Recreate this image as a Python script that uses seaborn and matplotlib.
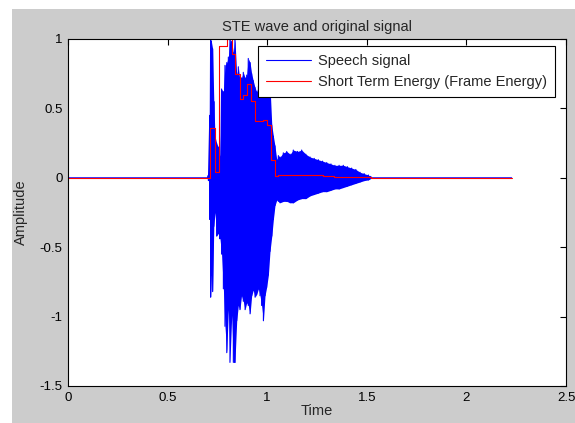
import numpy as np
import pandas as pd
import matplotlib
matplotlib.use("Agg")
import matplotlib.pyplot as plt
from matplotlib.patches import Rectangle
import seaborn as sns

# envelope of the speech signal (peaks)
env_t = [0.700, 0.705, 0.712, 0.716, 0.720, 0.726, 0.732, 0.738, 0.746, 0.755, 0.763,
         0.771, 0.780, 0.788, 0.797, 0.805, 0.813, 0.822, 0.830, 0.838, 0.847,
         0.855, 0.863, 0.871, 0.880, 0.889, 0.897, 0.905, 0.914, 0.922, 0.930,
         0.939, 0.947, 0.956, 0.964, 0.972, 0.981, 0.989, 0.997, 1.006, 1.014,
         1.023, 1.031, 1.039, 1.048, 1.056, 1.064, 1.081, 1.098, 1.115, 1.131,
         1.152, 1.173, 1.194, 1.215, 1.236, 1.257, 1.278, 1.299, 1.320, 1.340,
         1.361, 1.382, 1.403, 1.424, 1.445, 1.466, 1.487, 1.508, 1.520, 1.530]
env_hi = [0.0, 0.02, 0.45, 1.00, 0.98, 0.93, 0.55, 0.30, 0.25, 0.22, 0.15,
          0.64, 0.62, 0.81, 0.83, 0.87, 1.00, 0.98, 0.90, 1.00, 0.74,
          0.80, 0.70, 0.72, 0.76, 0.72, 0.74, 0.86, 0.83, 0.75, 0.70,
          0.65, 0.62, 0.66, 0.66, 0.68, 0.66, 0.62, 0.64, 0.60, 0.67,
          0.38, 0.30, 0.23, 0.13, 0.16, 0.15, 0.18, 0.19, 0.17, 0.20,
          0.19, 0.20, 0.17, 0.15, 0.14, 0.13, 0.12, 0.11, 0.10, 0.09,
          0.09, 0.09, 0.08, 0.07, 0.06, 0.04, 0.03, 0.02, 0.01, 0.0]
env_lo = [0.0, -0.02, -0.30, -0.86, -0.70, -0.82, -0.35, -0.25, -0.42, -0.40, -0.44,
          -0.55, -0.80, -1.07, -1.26, -0.95, -1.33, -0.99, -1.33, -1.33, -1.03,
          -0.92, -0.95, -0.85, -0.89, -0.95, -0.90, -0.92, -0.98, -0.85, -0.81,
          -0.86, -0.84, -0.80, -0.85, -0.92, -1.03, -0.85, -0.79, -0.70, -0.53,
          -0.42, -0.30, -0.20, -0.16, -0.17, -0.18, -0.17, -0.17, -0.18, -0.18,
          -0.16, -0.15, -0.15, -0.13, -0.12, -0.11, -0.10, -0.10, -0.09, -0.08,
          -0.08, -0.07, -0.06, -0.05, -0.04, -0.03, -0.02, -0.015, -0.005, 0.0]
sig_start = 0.0
sig_end = 2.227

# short term energy, one value per frame (step edges)
ste_t = [0.0, 0.713, 0.738, 0.760, 0.797, 0.822, 0.838, 0.863, 0.880, 0.900,
         0.917, 0.939, 0.977, 0.997, 1.019, 1.039, 1.053, 1.18, 1.19, 1.28,
         1.336, 1.52, 2.227]
ste_v = [0.0, 0.36, 0.04, 0.95, 1.0, 0.89, 0.75, 0.57, 0.60, 0.675,
         0.55, 0.41, 0.42, 0.38, 0.126, 0.015, 0.022, 0.018, 0.02, 0.01,
         0.005, 0.0, 0.0]

# zigzag between the upper and lower peaks
sig_t = [sig_start]
sig_a = [0.0]
for t, hi, lo in zip(env_t, env_hi, env_lo):
    sig_t += [t, t]
    sig_a += [hi, lo]
sig_t.append(sig_end)
sig_a.append(0.0)
df_sig = pd.DataFrame({"Time": sig_t, "Amplitude": sig_a})
df_ste = pd.DataFrame({"Time": ste_t, "Amplitude": ste_v})

sns.set_style("white")
plt.rcParams["font.family"] = ["Liberation Sans", "DejaVu Sans"]
plt.rcParams["font.size"] = 9.5

fig = plt.figure(figsize=(5.75, 4.23), dpi=100, facecolor="white")
fig.patches.append(Rectangle((12 / 575, 0), 1, 1 - 9 / 423, transform=fig.transFigure,
                             facecolor="#cccccc", edgecolor="none", zorder=-10))
ax = fig.add_axes([68 / 575, 1 - 386 / 423, (566 - 68) / 575, (386 - 39) / 423])
ax.set_facecolor("white")

ax.fill_between(env_t, env_lo, env_hi, color="blue", lw=0)
sns.lineplot(data=df_sig, x="Time", y="Amplitude", sort=False, estimator=None,
             color="blue", lw=0.8, ax=ax, label="Speech signal")
sns.lineplot(data=df_ste, x="Time", y="Amplitude", sort=False, estimator=None,
             color="red", lw=0.8, drawstyle="steps-post", ax=ax,
             label="Short Term Energy (Frame Energy)")

ax.set_xlim(0, 2.5)
ax.set_ylim(-1.5, 1)
ax.set_xticks([0, 0.5, 1, 1.5, 2, 2.5])
ax.set_xticklabels(["0", "0.5", "1", "1.5", "2", "2.5"])
ax.set_yticks([-1.5, -1, -0.5, 0, 0.5, 1])
ax.set_yticklabels(["-1.5", "-1", "-0.5", "0", "0.5", "1"])
ax.tick_params(direction="in", length=4, width=0.8, top=True, right=True,
               labelsize=9.5, pad=4, colors="black")
for s in ax.spines.values():
    s.set_color("black")
    s.set_linewidth(0.8)
ax.set_xlabel("Time", fontsize=10.5, labelpad=0)
ax.set_ylabel("Amplitude", fontsize=10.5, labelpad=8)
ax.set_title("STE wave and original signal", fontsize=10.5, pad=6)

leg = ax.legend(loc="upper right", bbox_to_anchor=(0.978, 0.98), frameon=True,
                fancybox=False, edgecolor="black", fontsize=10.5, handlelength=3.1,
                borderpad=0.55, labelspacing=0.5, handletextpad=0.5, framealpha=1,
                borderaxespad=0)
leg.get_frame().set_linewidth(0.8)

fig.savefig("out.png", dpi=100, facecolor=fig.get_facecolor())
